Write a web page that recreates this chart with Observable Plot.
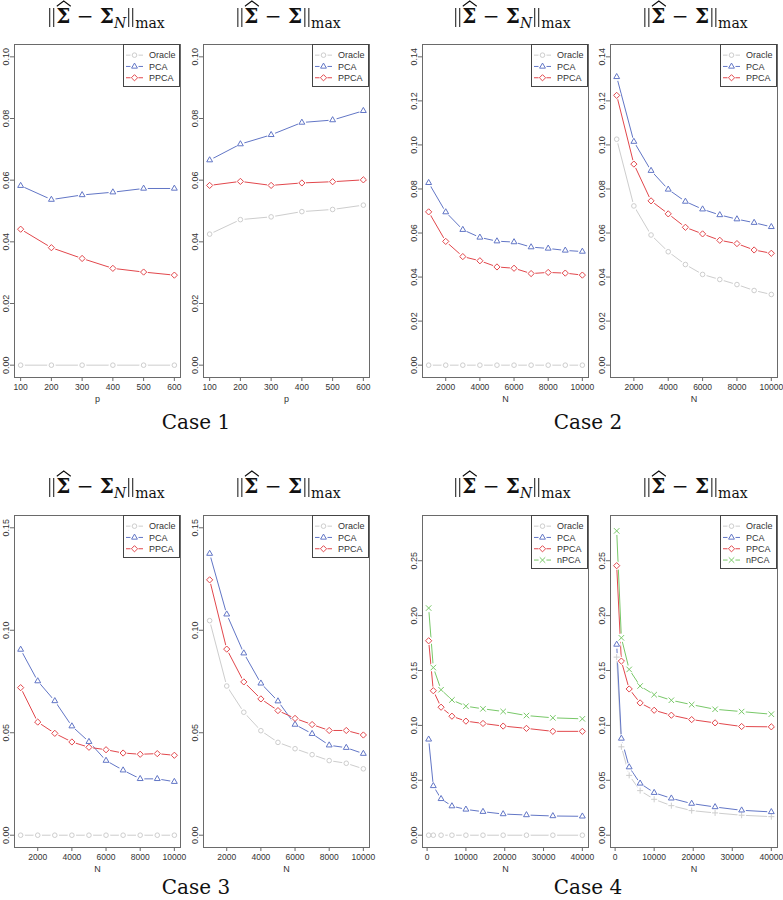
<!DOCTYPE html>
<html><head><meta charset="utf-8">
<script src="https://cdn.jsdelivr.net/npm/d3@7"></script>
<script src="https://cdn.jsdelivr.net/npm/@observablehq/plot@0.6"></script>
<style>
body{margin:0;background:#fff;}
#wrap{position:relative;width:783px;height:900px;overflow:hidden;background:#fff;font-family:"Liberation Sans",Arial,sans-serif;}
.panel{position:absolute;}
.title{position:absolute;font-family:"DejaVu Serif","Liberation Serif",serif;font-size:20px;white-space:nowrap;transform:translate(-50%,-50%);color:#111;line-height:1;}
.title b{font-weight:bold;}
.title sub{font-size:14px;vertical-align:-5px;}
.bars{display:inline-block;width:3px;height:19px;border-left:1px solid #111;border-right:1px solid #111;vertical-align:-4px;margin:0 2px;}
.hatw{position:relative;display:inline-block;}
.hatw svg{position:absolute;left:0px;top:-6px;}
.case{position:absolute;font-family:"DejaVu Serif","Liberation Serif",serif;font-size:20px;transform:translate(-50%,-50%);color:#111;white-space:nowrap;}
.legend{position:absolute;}
</style></head>
<body><div id="wrap"></div>
<script>
// ---------- data ----------
const pVals = [100, 200, 300, 400, 500, 600];
const nVals = [1000, 2000, 3000, 4000, 5000, 6000, 7000, 8000, 9000, 10000];
const nVals4 = [400, 1600, 3600, 6400, 10000, 14400, 19600, 25600, 32400, 40000];

// Case 1
const c1N_oracle = [0, 0, 0, 0, 0, 0];
const c1N_pca    = [0.0582, 0.0537, 0.0552, 0.0561, 0.0573, 0.0573];
const c1N_ppca   = [0.0441, 0.0381, 0.0346, 0.0314, 0.0302, 0.0292];
const c1_oracle  = [0.0425, 0.0472, 0.0481, 0.0498, 0.0505, 0.0519];
const c1_pca     = [0.0665, 0.0717, 0.0747, 0.0787, 0.0795, 0.0825];
const c1_ppca    = [0.0583, 0.0596, 0.0583, 0.0591, 0.0595, 0.0601];

// Case 2
const c2N_oracle = [0, 0, 0, 0, 0, 0, 0, 0, 0, 0];
const c2N_pca    = [0.0828, 0.0695, 0.0615, 0.0580, 0.0563, 0.0559, 0.0536, 0.0530, 0.0521, 0.0516];
const c2N_ppca   = [0.0696, 0.0562, 0.0493, 0.0474, 0.0446, 0.0440, 0.0416, 0.0421, 0.0418, 0.0409];
const c2_oracle  = [0.1026, 0.0723, 0.0591, 0.0515, 0.0457, 0.0412, 0.0389, 0.0366, 0.0339, 0.0321];
const c2_pca     = [0.1309, 0.1015, 0.0883, 0.0798, 0.0743, 0.0708, 0.0682, 0.0663, 0.0647, 0.0628];
const c2_ppca    = [0.1225, 0.0913, 0.0746, 0.0687, 0.0626, 0.0596, 0.0567, 0.0552, 0.0523, 0.0508];

// Case 3
const c3N_oracle = [0, 0, 0, 0, 0, 0, 0, 0, 0, 0];
const c3N_pca    = [0.0906, 0.0752, 0.0655, 0.0532, 0.0456, 0.0364, 0.0317, 0.0275, 0.0275, 0.0261];
const c3N_ppca   = [0.0720, 0.0552, 0.0497, 0.0455, 0.0429, 0.0417, 0.0401, 0.0395, 0.0398, 0.0390];
const c3_oracle  = [0.1047, 0.0728, 0.0600, 0.0510, 0.0453, 0.0422, 0.0393, 0.0364, 0.0351, 0.0324];
const c3_pca     = [0.1374, 0.1078, 0.0888, 0.0741, 0.0654, 0.0540, 0.0495, 0.0439, 0.0427, 0.0398];
const c3_ppca    = [0.1246, 0.0908, 0.0748, 0.0665, 0.0608, 0.0570, 0.0540, 0.0511, 0.0511, 0.0489];

// Case 4
const c4N_oracle = [0, 0, 0, 0, 0, 0, 0, 0, 0, 0];
const c4N_pca    = [0.0873, 0.0449, 0.0331, 0.0265, 0.0235, 0.0214, 0.0193, 0.0184, 0.0175, 0.0172];
const c4N_ppca   = [0.1771, 0.1316, 0.1166, 0.1084, 0.1039, 0.1018, 0.0994, 0.0973, 0.0946, 0.0946];
const c4N_npca   = [0.2069, 0.1527, 0.1325, 0.1232, 0.1175, 0.1151, 0.1127, 0.1090, 0.1069, 0.1060];
const c4_oracle  = [0.1622, 0.0805, 0.0545, 0.0406, 0.0327, 0.0269, 0.0224, 0.0203, 0.0182, 0.0169];
const c4_pca     = [0.1737, 0.0881, 0.0620, 0.0472, 0.0387, 0.0336, 0.0288, 0.0257, 0.0227, 0.0212];
const c4_ppca    = [0.2455, 0.1586, 0.1332, 0.1205, 0.1138, 0.1093, 0.1053, 0.1023, 0.0990, 0.0987];
const c4_npca    = [0.2772, 0.1798, 0.1510, 0.1359, 0.1280, 0.1229, 0.1189, 0.1147, 0.1126, 0.1102];

// ticks
const pTicks = [100, 200, 300, 400, 500, 600];
const nTicks = [2000, 4000, 6000, 8000, 10000];
const n4Ticks = [0, 10000, 20000, 30000, 40000];
const yTicks1 = [0, 0.02, 0.04, 0.06, 0.08, 0.10];
const yTicks2 = [0, 0.02, 0.04, 0.06, 0.08, 0.10, 0.12, 0.14];
const yTicks3 = [0, 0.05, 0.10, 0.15];
const yTicks4 = [0, 0.05, 0.10, 0.15, 0.20, 0.25];
const caseLabels = ["Case 1", "Case 2", "Case 3", "Case 4"];

// ---------- styles ----------
const COL = {Oracle: "#cdcdcd", PCA: "#6276c6", PPCA: "#e2474c", nPCA: "#78c868"};
const SYM = {Oracle: "circle", PCA: "triangle2", PPCA: "diamond2", nPCA: "times"};
const RAD = {circle: 2.3, triangle2: 2.8, diamond2: 2.8, times: 2.6, plus: 2.1};
const D3SYM = {circle: d3.symbolCircle, triangle2: d3.symbolTriangle2, diamond2: d3.symbolDiamond2, times: d3.symbolTimes, plus: d3.symbolPlus};

function ext(lo, hi) { const d = (hi - lo) * 0.04; return [lo - d, hi + d]; }

const wrap = document.getElementById("wrap");

function panel(cfg) {
  const {left, top, right, bottom, xs, series, xDom, yDom, xTicks, yTicks, xLabel} = cfg;
  const mL = 30, mR = 4, mT = 4, mB = 34;
  const width = (right - left) + mL + mR;
  const height = (bottom - top) + mT + mB;
  const marks = [];
  const rowsOf = s => s.values.map((v, i) => ({x: xs[i], y: v}));
  for (const s of series) marks.push(Plot.line(rowsOf(s), {x: "x", y: "y", stroke: COL[s.name], strokeWidth: 1}));
  for (const s of series) marks.push(Plot.dot(rowsOf(s), {x: "x", y: "y", r: 4.2, fill: "white", stroke: null}));
  for (const s of series) {
    const sym = s.symbol || SYM[s.name];
    marks.push(Plot.dot(rowsOf(s), {x: "x", y: "y", r: RAD[sym], symbol: () => sym, fill: "none", stroke: COL[s.name], strokeWidth: 1}));
  }
  marks.push(Plot.frame({stroke: "#6a6a6a", strokeWidth: 1}));
  marks.push(Plot.axisX({ticks: xTicks, tickSize: 4, tickPadding: 2, tickFormat: d3.format("d"), fontSize: 8.5, stroke: "#6a6a6a", fill: "#333", label: null}));
  marks.push(Plot.axisY({ticks: yTicks, tickSize: 4, tickPadding: 2, tickRotate: -90, textAnchor: "middle", lineAnchor: "bottom", tickFormat: d3.format(".2f"), fontSize: 9, stroke: "#6a6a6a", fill: "#333", label: null}));
  marks.push(Plot.text([xLabel], {frameAnchor: "bottom", dy: 24, fontSize: 9, fill: "#333"}));
  const svg = Plot.plot({
    width, height, marginLeft: mL, marginRight: mR, marginTop: mT, marginBottom: mB,
    x: {domain: xDom}, y: {domain: yDom},
    style: {background: "transparent", overflow: "visible", fontFamily: "Liberation Sans, Arial, sans-serif"},
    marks
  });
  svg.classList.add("panel");
  svg.style.position = "absolute";
  svg.style.left = (left - mL) + "px";
  svg.style.top = (top - mT) + "px";
  wrap.appendChild(svg);

  // legend (top-right inside the frame)
  const lw = 57, rowH = 11.3, lh = Math.round(series.length * rowH + 9);
  const ls = d3.create("svg").attr("width", lw).attr("height", lh).attr("class", "legend")
    .style("left", (right - lw) + "px").style("top", top + "px");
  ls.append("rect").attr("x", 0.5).attr("y", 0.5).attr("width", lw - 1).attr("height", lh - 1).attr("fill", "white").attr("stroke", "#444");
  series.forEach((s, i) => {
    const y = 5.5 + rowH * (i + 0.5);
    ls.append("line").attr("x1", 3).attr("x2", 20).attr("y1", y).attr("y2", y).attr("stroke", COL[s.name]);
    ls.append("circle").attr("cx", 11.5).attr("cy", y).attr("r", 4).attr("fill", "white");
    const sym = SYM[s.name];
    const sz = Math.PI * RAD[sym] ** 2;
    ls.append("path").attr("d", d3.symbol(D3SYM[sym], sz)()).attr("transform", `translate(11.5,${y})`).attr("fill", "none").attr("stroke", COL[s.name]);
    ls.append("text").attr("x", 26).attr("y", y).attr("dy", "0.35em").attr("font-size", 9).attr("fill", "#333").attr("font-family", "Liberation Sans, Arial, sans-serif").text(s.name);
  });
  wrap.appendChild(ls.node());
}

function title(cx, cy, sub) {
  const d = document.createElement("div");
  d.className = "title";
  d.style.left = cx + "px"; d.style.top = cy + "px";
  const hat = '<span class="hatw"><b>&Sigma;</b><svg width="15" height="7"><polyline points="0.5,6.2 7.5,1 14.5,6.2" fill="none" stroke="#111" stroke-width="1.2"/></svg></span>';
  d.innerHTML = '<span class="bars"></span>' + hat + ' &minus; <b>&Sigma;</b>' + (sub ? '<sub><i>N</i></sub>' : '') + '<span class="bars"></span><sub>max</sub>';
  wrap.appendChild(d);
}
function caseLabel(cx, cy, t) {
  const d = document.createElement("div");
  d.className = "case"; d.style.left = cx + "px"; d.style.top = cy + "px"; d.textContent = t;
  wrap.appendChild(d);
}

const cols = [[14, 180], [203, 369], [422, 588], [610, 777]];
const rows = [[44, 377], [515, 847]];
const S3 = (o, p, q) => [{name: "Oracle", values: o}, {name: "PCA", values: p}, {name: "PPCA", values: q}];

const panels = [
  {c: 0, r: 0, xs: pVals, series: S3(c1N_oracle, c1N_pca, c1N_ppca), xDom: ext(100, 600), yDom: ext(0, 0.10), xTicks: pTicks, yTicks: yTicks1, xLabel: "p"},
  {c: 1, r: 0, xs: pVals, series: S3(c1_oracle, c1_pca, c1_ppca), xDom: ext(100, 600), yDom: ext(0, 0.10), xTicks: pTicks, yTicks: yTicks1, xLabel: "p"},
  {c: 2, r: 0, xs: nVals, series: S3(c2N_oracle, c2N_pca, c2N_ppca), xDom: ext(1000, 10000), yDom: ext(0, 0.14), xTicks: nTicks, yTicks: yTicks2, xLabel: "N"},
  {c: 3, r: 0, xs: nVals, series: S3(c2_oracle, c2_pca, c2_ppca), xDom: ext(1000, 10000), yDom: ext(0, 0.14), xTicks: nTicks, yTicks: yTicks2, xLabel: "N"},
  {c: 0, r: 1, xs: nVals, series: S3(c3N_oracle, c3N_pca, c3N_ppca), xDom: ext(1000, 10000), yDom: ext(0, 0.15), xTicks: nTicks, yTicks: yTicks3, xLabel: "N"},
  {c: 1, r: 1, xs: nVals, series: S3(c3_oracle, c3_pca, c3_ppca), xDom: ext(1000, 10000), yDom: ext(0, 0.15), xTicks: nTicks, yTicks: yTicks3, xLabel: "N"},
  {c: 2, r: 1, xs: nVals4, series: [...S3(c4N_oracle, c4N_pca, c4N_ppca), {name: "nPCA", values: c4N_npca}], xDom: ext(400, 40000), yDom: ext(0, 0.28), xTicks: n4Ticks, yTicks: yTicks4, xLabel: "N"},
  {c: 3, r: 1, xs: nVals4, series: [{name: "Oracle", values: c4_oracle, symbol: "plus"}, {name: "PCA", values: c4_pca}, {name: "PPCA", values: c4_ppca}, {name: "nPCA", values: c4_npca}], xDom: ext(400, 40000), yDom: ext(0, 0.28), xTicks: n4Ticks, yTicks: yTicks4, xLabel: "N"}
];
for (const p of panels) {
  panel({left: cols[p.c][0], right: cols[p.c][1], top: rows[p.r][0], bottom: rows[p.r][1], ...p});
}

const titleX = [106, 288, 512, 695];
const titleY = [18, 488];
for (let r = 0; r < 2; r++) for (let c = 0; c < 4; c++) title(titleX[c], titleY[r], c % 2 === 0);
caseLabel(196, 422, caseLabels[0]);
caseLabel(588, 422, caseLabels[1]);
caseLabel(196, 887, caseLabels[2]);
caseLabel(588, 887, caseLabels[3]);
</script>
</body></html>
